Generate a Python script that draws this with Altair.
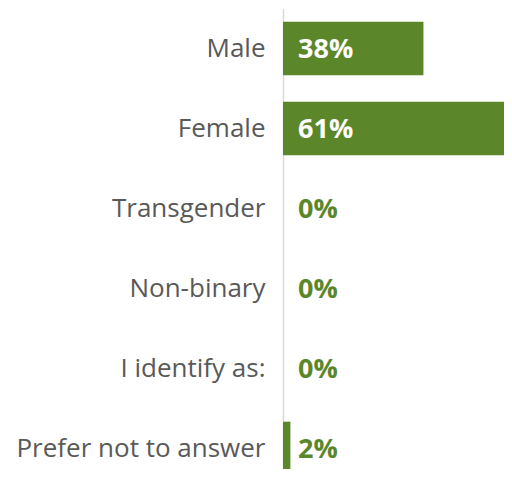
import altair as alt
import pandas as pd

categories = ["Male", "Female", "Transgender", "Non-binary", "I identify as:", "Prefer not to answer"]
values = [38, 61, 0, 0, 0, 2]
labels = ["38%", "61%", "0%", "0%", "0%", "2%"]
inside = [True, True, False, False, False, False]

df = pd.DataFrame({"cat": categories, "val": values, "lab": labels, "inside": inside})

GREEN = "#5b862a"

y = alt.Y("cat:N", sort=categories,
          scale=alt.Scale(range=[0.5, 480.5], paddingInner=0.33, paddingOuter=0.165),
          axis=alt.Axis(title=None, ticks=False, domain=True, domainColor="#d9d9d9", domainWidth=1.5,
                        labelFont="Open Sans", labelFontSize=26, labelColor="#595959",
                        labelPadding=18, labelLimit=300))

bars = alt.Chart(df).mark_bar(color=GREEN).encode(
    x=alt.X("val:Q", scale=alt.Scale(domain=[0, 59.8], nice=False), axis=None),
    y=y,
)

text = alt.Chart(df).mark_text(align="left", baseline="middle", font="Open Sans",
                               fontWeight="bold", fontSize=27, dx=15, dy=1).encode(
    x=alt.value(0),
    y=alt.Y("cat:N", sort=categories),
    text="lab:N",
    color=alt.condition("datum.inside", alt.value("white"), alt.value(GREEN)),
)

chart = (bars + text).properties(
    width=221, height=461,
    autosize=alt.AutoSizeParams(type="none"),
    padding={"left": 275, "top": 0, "right": 0, "bottom": 0},
).configure_view(stroke=None)

chart.save("out.html", embed_options={"renderer": "svg", "actions": False})
